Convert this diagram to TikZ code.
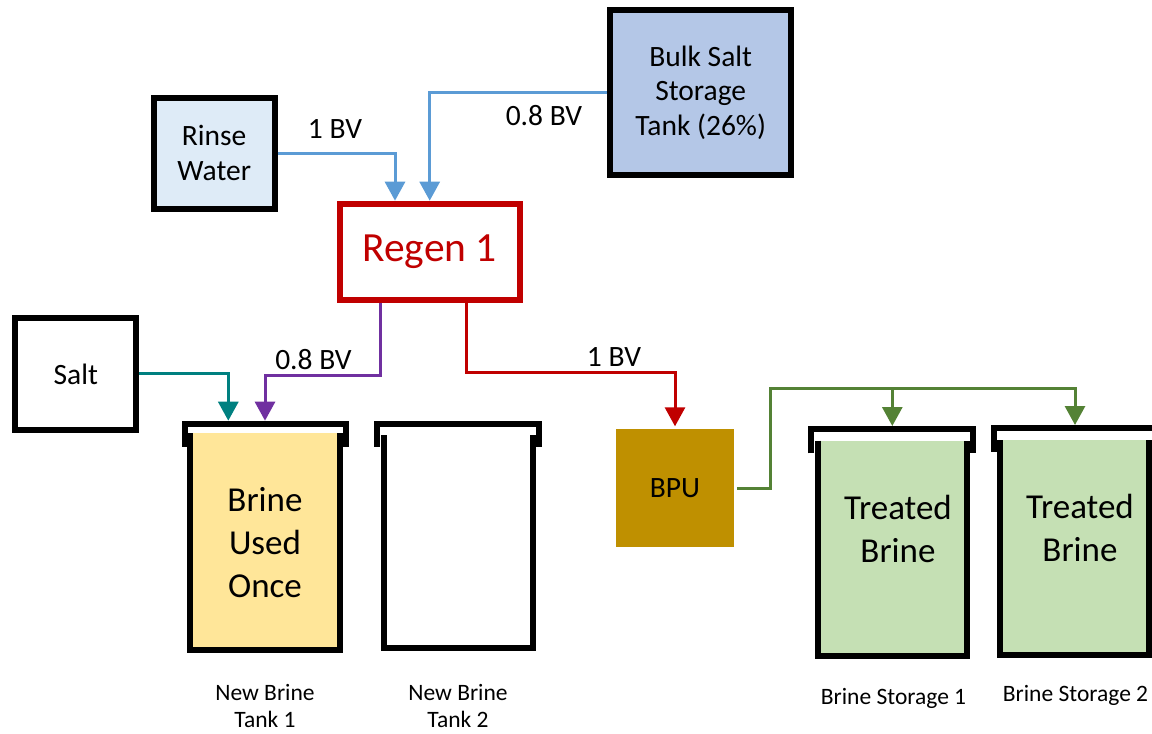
\documentclass[tikz,border=0pt]{standalone}
\usepackage{fontspec}
\setmainfont{Carlito}
\usetikzlibrary{arrows.meta}
\definecolor{rinsefill}{HTML}{DEEBF7}
\definecolor{bulkfill}{HTML}{B4C7E7}
\definecolor{regenred}{HTML}{C00000}
\definecolor{bpufill}{HTML}{BF9000}
\definecolor{brinefill}{HTML}{FFE699}
\definecolor{treatfill}{HTML}{C5E0B4}
\definecolor{flowblue}{HTML}{5B9BD5}
\definecolor{flowpurple}{HTML}{7030A0}
\definecolor{flowteal}{HTML}{008080}
\definecolor{flowgreen}{HTML}{548235}
\tikzset{
  box/.style={draw=black, line width=6pt, align=center, inner sep=0pt,
    font=\fontsize{29.5}{35}\selectfont},
  flow/.style={line width=3pt, -{Triangle[width=20pt,length=19pt]}},
  lbl/.style={font=\fontsize{29.5}{35}\selectfont, inner sep=0pt},
  tanktext/.style={align=center, inner sep=0pt, font=\fontsize{35}{43}\selectfont},
  caption/.style={align=center, inner sep=0pt, font=\fontsize{23.5}{27}\selectfont},
  wall/.style={line width=6pt, line join=miter},
}
\begin{document}
\begin{tikzpicture}[x=1pt,y=-1pt]
\useasboundingbox (0,0) rectangle (1152,734);

% tanks
\filldraw[wall, fill=brinefill] (190.3,433) -- (190.3,650) -- (339.7,650) -- (339.7,433);
\draw[wall] (184.5,446.7) -- (184.5,423.7) -- (346.2,423.7) -- (346.2,446.7);
\filldraw[wall, fill=white] (383.7,435) -- (383.7,647.5) -- (532.5,647.5) -- (532.5,435);
\draw[wall] (377,446.7) -- (377,423.7) -- (538.7,423.7) -- (538.7,446.7);
\filldraw[wall, fill=treatfill] (817.8,440.7) -- (817.8,656) -- (967,656) -- (967,440.7);
\draw[wall] (811.2,453.3) -- (811.2,429.2) -- (972.8,429.2) -- (972.8,453.3);
\filldraw[wall, fill=treatfill] (1000.3,440) -- (1000.3,654.7) -- (1148.8,654.7) -- (1148.8,440);
\draw[wall] (993.8,451.7) -- (993.8,428.3) -- (1155.4,428.3) -- (1155.4,451.7);

\coordinate (t1a) at (228.3,420.7);
\coordinate (t1b) at (265,420.7);
\coordinate (t3) at (892.3,426);
\coordinate (t4) at (1075,425);
\coordinate (gsplit) at (770.7,388);

% boxes
\node[box, fill=rinsefill, minimum width=121pt, minimum height=111pt] (rinse) at (214.2,153.3) {Rinse\\Water};
\node[box, fill=bulkfill, minimum width=180.7pt, minimum height=165pt] (bulk) at (700.7,92.8) {Bulk Salt\\Storage\\Tank (26\%)};
\node[box, draw=regenred, text=regenred, fill=white, minimum width=180pt, minimum height=96pt,
  font=\fontsize{41.5}{48}\selectfont] (regen) at (429.7,251.7) {Regen 1};
\node[box, fill=white, minimum width=121pt, minimum height=111.7pt] (salt) at (75.8,373.9) {Salt};
\node[box, draw=none, fill=bpufill, minimum width=118pt, minimum height=117.4pt] (bpu) at (675,488) {BPU};

% tank texts
\node[tanktext] (bt1) at (265,543) {Brine\\Used\\Once};
\node[tanktext] (tb1) at (898,528.5) {Treated\\Brine};
\node[tanktext] (tb2) at (1080,528) {Treated\\Brine};

\node[caption] (c1) at (265,706) {New Brine\\Tank 1};
\node[caption] (c2) at (458,706) {New Brine\\Tank 2};
\node[caption] (c3) at (893.5,698) {Brine Storage 1};
\node[caption] (c4) at (1075.5,695) {Brine Storage 2};

% connectors
\draw[flow, flowblue] (rinse.east) -| ([xshift=-34.7pt]regen.north);
\draw[flow, flowblue] (bulk.west) -| (regen.north);
\draw[flow, flowteal] (salt.east) -| (t1a);
\draw[flow, flowpurple] ([xshift=-49pt]regen.south) -- ++(0,72.3) -| (t1b);
\draw[flow, regenred] ([xshift=37pt]regen.south) -- ++(0,70) -| (bpu.north);
\draw[flow, flowgreen] (bpu.east) -| (gsplit) -| (t3);
\draw[flow, flowgreen] (gsplit) -| (t4);

% flow labels
\node[lbl] (l1) at (335,129) {1 BV};
\node[lbl] (l2) at (544,116) {0.8 BV};
\node[lbl] (l3) at (313.5,360) {0.8 BV};
\node[lbl] (l4) at (614,357) {1 BV};
\end{tikzpicture}
\end{document}
